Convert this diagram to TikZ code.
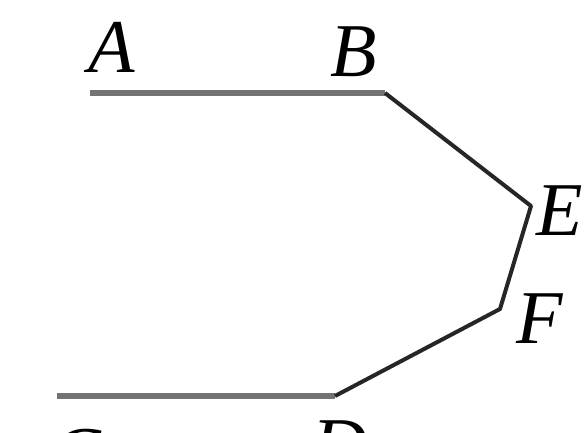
\documentclass[tikz,border=0pt]{standalone}
\usepackage{fontspec}
\setmainfont{Liberation Serif}
\begin{document}
\begin{tikzpicture}[x=1pt,y=-1pt,
  flat/.style={draw=black!55,line width=6pt},
  slant/.style={draw=black!85,line width=4pt,line join=round},
  lbl/.style={anchor=base west,inner sep=0pt,font=\fontsize{76}{80}\selectfont\itshape}]
\useasboundingbox (0,0) rectangle (584,433);
\coordinate (A) at (90,93);
\coordinate (B) at (385,93);
\coordinate (E) at (531,206);
\coordinate (F) at (500,309);
\coordinate (D) at (335,396);
\coordinate (C) at (57,396);
\draw[flat] (A) -- (B);
\draw[flat] (C) -- (D);
\draw[slant] (B) -- (E) -- (F) -- (D);
\node[lbl] (lA) at (88,73) {A};
\node[lbl] (lB) at (330,77) {B};
\node[lbl] (lE) at (536,235) {E};
\node[lbl] (lF) at (516,343) {F};
\node[lbl] (lC) at (50,479) {C};
\node[lbl] (lD) at (312,470) {D};
\end{tikzpicture}
\end{document}
